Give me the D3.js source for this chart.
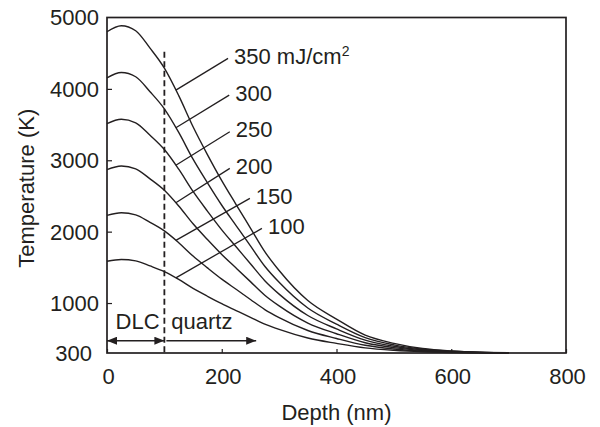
<!DOCTYPE html>
<html>
<head>
<meta charset="utf-8">
<script src="https://cdn.jsdelivr.net/npm/d3@7"></script>
<style>
  body { margin: 0; background: #fff }
  text { font-family: "Liberation Sans", Arial, sans-serif; fill: #231f20 }
</style>
</head>
<body>
<svg id="chart" width="600" height="427"></svg>
<script>
// depth (nm) and temperature (K) per laser fluence (mJ/cm2)
const depths = [0, 25, 50, 75, 100, 125, 150, 175, 200, 225, 250, 275, 300, 350, 400, 450, 500, 550, 600, 650, 700]
const temp350 = [4800, 4885, 4815, 4570, 4290, 3905, 3470, 3080, 2715, 2380, 2050, 1720, 1455, 1035, 775, 550, 435, 363, 328, 310, 304]
const temp300 = [4155, 4230, 4170, 3960, 3720, 3390, 3015, 2685, 2370, 2085, 1800, 1515, 1290, 930, 705, 516, 414, 354, 324, 309, 303]
const temp250 = [3513, 3575, 3525, 3350, 3150, 2875, 2563, 2288, 2025, 1788, 1550, 1313, 1125, 825, 638, 480, 395, 345, 320, 308, 302]
const temp200 = [2870, 2920, 2880, 2740, 2580, 2360, 2110, 1890, 1680, 1490, 1300, 1110, 960, 720, 570, 444, 376, 336, 316, 306, 302]
const temp150 = [2228, 2265, 2235, 2130, 2010, 1845, 1658, 1493, 1335, 1193, 1050, 908, 795, 615, 503, 408, 357, 327, 312, 305, 302]
const temp100 = [1585, 1610, 1590, 1520, 1440, 1330, 1205, 1095, 990, 895, 800, 705, 630, 510, 435, 372, 338, 318, 308, 303, 301]
const fluences = [350, 300, 250, 200, 150, 100]
const xTicks = [0, 200, 400, 600, 800]
const yTicks = [1000, 2000, 3000, 4000, 5000]

const series = [temp350, temp300, temp250, temp200, temp150, temp100]
  .map((temps, i) => ({ fluence: fluences[i], points: depths.map((d, j) => ({ depth: d, temp: temps[j] })) }))

// where each leader line ends, in data units (depth, temperature)
const labelAnchors = [[211, 4427], [213, 3913], [214, 3399], [214, 2887], [249, 2467], [270, 2046]]
const leaderDepth = 120
const interfaceDepth = 100

const ink = "#231f20"
const fontSize = 22
const margin = { left: 107, right: 34, top: 17.5, bottom: 74 }
const width = 600, height = 427

const svg = d3.select("#chart")
const x = d3.scaleLinear().domain([0, 800]).range([margin.left, width - margin.right])
const y = d3.scaleLinear().domain([300, 5000]).range([height - margin.bottom, margin.top])

// axes - ticks point inward
const xAxis = svg.append("g")
  .attr("transform", `translate(0,${y(300)})`)
  .call(d3.axisTop(x).tickValues(xTicks).tickSize(4).tickFormat(""))
xAxis.select(".domain").remove()
xAxis.selectAll("line").attr("stroke", ink).attr("stroke-width", 1.2)
svg.append("g").selectAll("text").data(xTicks).join("text")
  .attr("x", d => x(d) + 1.5).attr("y", y(300) + 31)
  .attr("text-anchor", "middle").attr("font-size", fontSize)
  .text(d => d)

const yAxis = svg.append("g")
  .attr("transform", `translate(${x(0)},0)`)
  .call(d3.axisRight(y).tickValues(yTicks.slice(0, 4)).tickSize(5).tickFormat(""))
yAxis.select(".domain").remove()
yAxis.selectAll("line").attr("stroke", ink).attr("stroke-width", 1.2)
svg.append("g").selectAll("text").data(yTicks).join("text")
  .attr("x", x(0) - 8).attr("y", d => y(d)).attr("dy", "0.36em")
  .attr("text-anchor", "end").attr("font-size", fontSize)
  .text(d => d)
svg.append("text")
  .attr("x", x(0) - 15).attr("y", y(300)).attr("dy", "0.36em")
  .attr("text-anchor", "end").attr("font-size", fontSize)
  .text("300")

// plot frame
svg.append("rect")
  .attr("x", x(0)).attr("y", y(5000))
  .attr("width", x(800) - x(0)).attr("height", y(300) - y(5000))
  .attr("fill", "none").attr("stroke", ink).attr("stroke-width", 1.7)

svg.append("text")
  .attr("transform", `translate(34,${(y(300) + y(5000)) / 2 + 3}) rotate(-90)`)
  .attr("text-anchor", "middle").attr("font-size", fontSize)
  .text("Temperature (K)")
svg.append("text")
  .attr("x", (x(0) + x(800)) / 2).attr("y", 420)
  .attr("text-anchor", "middle").attr("font-size", fontSize)
  .text("Depth (nm)")

// DLC / quartz interface
svg.append("line")
  .attr("x1", x(interfaceDepth)).attr("x2", x(interfaceDepth))
  .attr("y1", y(4520)).attr("y2", y(300))
  .attr("stroke", ink).attr("stroke-width", 1.8).attr("stroke-dasharray", "6,3.5")

const line = d3.line().x(d => x(d.depth)).y(d => y(d.temp)).curve(d3.curveMonotoneX)
svg.append("g").selectAll("path").data(series).join("path")
  .attr("d", d => line(d.points))
  .attr("fill", "none").attr("stroke", ink).attr("stroke-width", 1.4)

// leaders and fluence labels
const tempAt = (s, depth) => {
  const pts = s.points
  const i = d3.bisector(p => p.depth).right(pts, depth)
  const a = pts[i - 1], b = pts[i]
  return a.temp + (b.temp - a.temp) * (depth - a.depth) / (b.depth - a.depth)
}
series.forEach((s, i) => {
  const [ld, lt] = labelAnchors[i]
  svg.append("line")
    .attr("x1", x(leaderDepth)).attr("y1", y(tempAt(s, leaderDepth)))
    .attr("x2", x(ld)).attr("y2", y(lt))
    .attr("stroke", ink).attr("stroke-width", 1.3)
  const label = svg.append("text")
    .attr("x", x(ld) + 6).attr("y", y(lt) + 5.5)
    .attr("font-size", fontSize)
    .text(i == 0 ? `${s.fluence} mJ/cm` : s.fluence)
  if (i == 0) label.append("tspan").attr("dy", -8).attr("font-size", 14).text("2")
})

// DLC / quartz arrows
const defs = svg.append("defs")
defs.append("marker").attr("id", "head")
  .attr("viewBox", "0 0 10 8").attr("refX", 10).attr("refY", 4)
  .attr("markerWidth", 10).attr("markerHeight", 8).attr("markerUnits", "userSpaceOnUse")
  .attr("orient", "auto-start-reverse")
  .append("path").attr("d", "M0,0L10,4L0,8Z").attr("fill", ink)

const arrowTemp = 472
svg.append("line")
  .attr("x1", x(0)).attr("x2", x(interfaceDepth))
  .attr("y1", y(arrowTemp)).attr("y2", y(arrowTemp))
  .attr("stroke", ink).attr("stroke-width", 1.5)
  .attr("marker-start", "url(#head)").attr("marker-end", "url(#head)")
svg.append("line")
  .attr("x1", x(interfaceDepth) + 2).attr("x2", x(260))
  .attr("y1", y(arrowTemp)).attr("y2", y(arrowTemp))
  .attr("stroke", ink).attr("stroke-width", 1.5)
  .attr("marker-end", "url(#head)")

svg.append("text")
  .attr("x", x(15)).attr("y", y(632))
  .attr("font-size", fontSize).text("DLC")
svg.append("text")
  .attr("x", x(112)).attr("y", y(632))
  .attr("font-size", fontSize).text("quartz")
</script>
</body>
</html>
